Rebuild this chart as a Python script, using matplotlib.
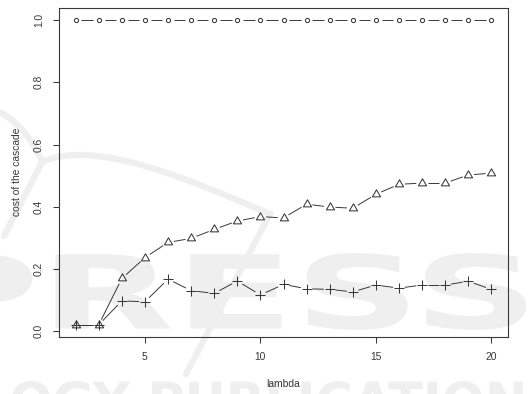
import numpy as np
import matplotlib
matplotlib.use("Agg")
import matplotlib.pyplot as plt
from matplotlib.path import Path
from matplotlib.patches import PathPatch
from matplotlib.textpath import TextPath
from matplotlib.font_manager import FontProperties
from matplotlib.transforms import Affine2D

# cascade cost against lambda, three configurations
lam = list(range(2, 21))
cost_full = [1.0] * 19
cost_tri = [0.02, 0.02, 0.169, 0.236, 0.285, 0.298, 0.327, 0.354, 0.368, 0.364,
            0.408, 0.399, 0.395, 0.440, 0.472, 0.476, 0.476, 0.502, 0.508]
cost_plus = [0.02, 0.02, 0.097, 0.094, 0.167, 0.130, 0.121, 0.161, 0.116, 0.150,
             0.136, 0.134, 0.126, 0.148, 0.138, 0.148, 0.148, 0.160, 0.134]

xticks = [5, 10, 15, 20]
yticks = [0.0, 0.2, 0.4, 0.6, 0.8, 1.0]

W, H = 529, 394
INK = "#383838"
WM = "#efefef"
FONT = "Liberation Sans"

fig = plt.figure(figsize=(W / 100, H / 100), dpi=100)
fig.patch.set_facecolor("white")

# ---- faint publisher watermark (pixel coords, y measured from top) ----
def wm_text(s, x0, x1, ytop, ybot):
    tp = TextPath((0, 0), s, size=100,
                  prop=FontProperties(family="DejaVu Sans", weight="bold"))
    ext = tp.get_extents()
    tr = (Affine2D().translate(-ext.x0, -ext.y0)
          .scale((x1 - x0) / ext.width, (ybot - ytop) / ext.height)
          .translate(x0, H - ybot))
    fig.add_artist(PathPatch(tp, transform=tr, fc=WM, ec="none", zorder=-5))

def wm_curve(verts, codes, lw):
    v = [(x, H - y) for x, y in verts]
    fig.add_artist(PathPatch(Path(v, codes), transform=Affine2D(), fc="none",
                             ec=WM, lw=lw, capstyle="round", zorder=-5))

wm_text("PRESS", -73, 526, 253, 330)
wm_text("OGY PUBLICATIONS", 12, 560, 381, 420)
C3, C4, M, L = Path.CURVE3, Path.CURVE4, Path.MOVETO, Path.LINETO
wm_curve([(0, 112), (28, 128), (42, 162)], [M, C3, C3], 4.5)
wm_curve([(42, 162), (95, 138), (190, 180), (270, 214), (186, 374)],
         [M, C4, C4, C4, L], 4.5)
wm_curve([(42, 162), (4, 236)], [M, L], 4.5)

# ---- plot region ----
ax = fig.add_axes([59 / W, 1 - 337 / H, 449 / W, 329 / H])
ax.patch.set_alpha(0)

xpad = 0.04 * (max(lam) - min(lam))
ymin = min(cost_tri + cost_plus)
ymax = max(cost_full)
ypad = 0.04 * (ymax - ymin)
ax.set_xlim(min(lam) - xpad, max(lam) + xpad)
ax.set_ylim(ymin - ypad, ymax + ypad)


def gapped(x, y, gap=5.8):
    """connect points like R's type='b': segments stop short of each point"""
    pts = ax.transData.transform(np.column_stack([x, y]))
    inv = ax.transData.inverted()
    for p, q in zip(pts[:-1], pts[1:]):
        d = q - p
        n = np.hypot(*d)
        if n <= 2 * gap:
            continue
        u = d / n
        seg = inv.transform([p + u * gap, q - u * gap])
        ax.plot(seg[:, 0], seg[:, 1], color=INK, lw=0.7, solid_capstyle="butt")


tri = Path([(0, 1.155), (-1, -0.577), (1, -0.577), (0, 1.155)],
           [M, L, L, Path.CLOSEPOLY])

for ys, mk, ms in [(cost_full, "o", 3.0), (cost_tri, tri, 6.8), (cost_plus, "+", 6.5)]:
    gapped(lam, ys)
    ax.plot(lam, ys, ls="none", marker=mk, ms=ms, mfc="none", mec=INK, mew=0.75)

ax.set_xticks(xticks)
ax.set_xticklabels([str(t) for t in xticks], fontfamily=FONT, fontsize=7.4, color=INK)
ax.set_yticks(yticks)
ax.set_yticklabels([f"{t:.1f}" for t in yticks], fontfamily=FONT, fontsize=7.4,
                   color=INK, rotation=90, va="center")
ax.tick_params(axis="both", direction="out", length=4.4, width=0.75, color=INK)
ax.tick_params(axis="x", pad=6.6)
ax.tick_params(axis="y", pad=6.4)
for sp in ax.spines.values():
    sp.set_color(INK)
    sp.set_linewidth(0.8)

fig.text(283.5 / W, 1 - 384 / H, "lambda", ha="center", va="center",
         fontfamily=FONT, fontsize=7.4, color=INK)
fig.text(17.5 / W, 1 - 172 / H, "cost of the cascade", ha="center", va="center",
         rotation=90, fontfamily=FONT, fontsize=7.4, color=INK)

fig.savefig("out.png", dpi=100)
